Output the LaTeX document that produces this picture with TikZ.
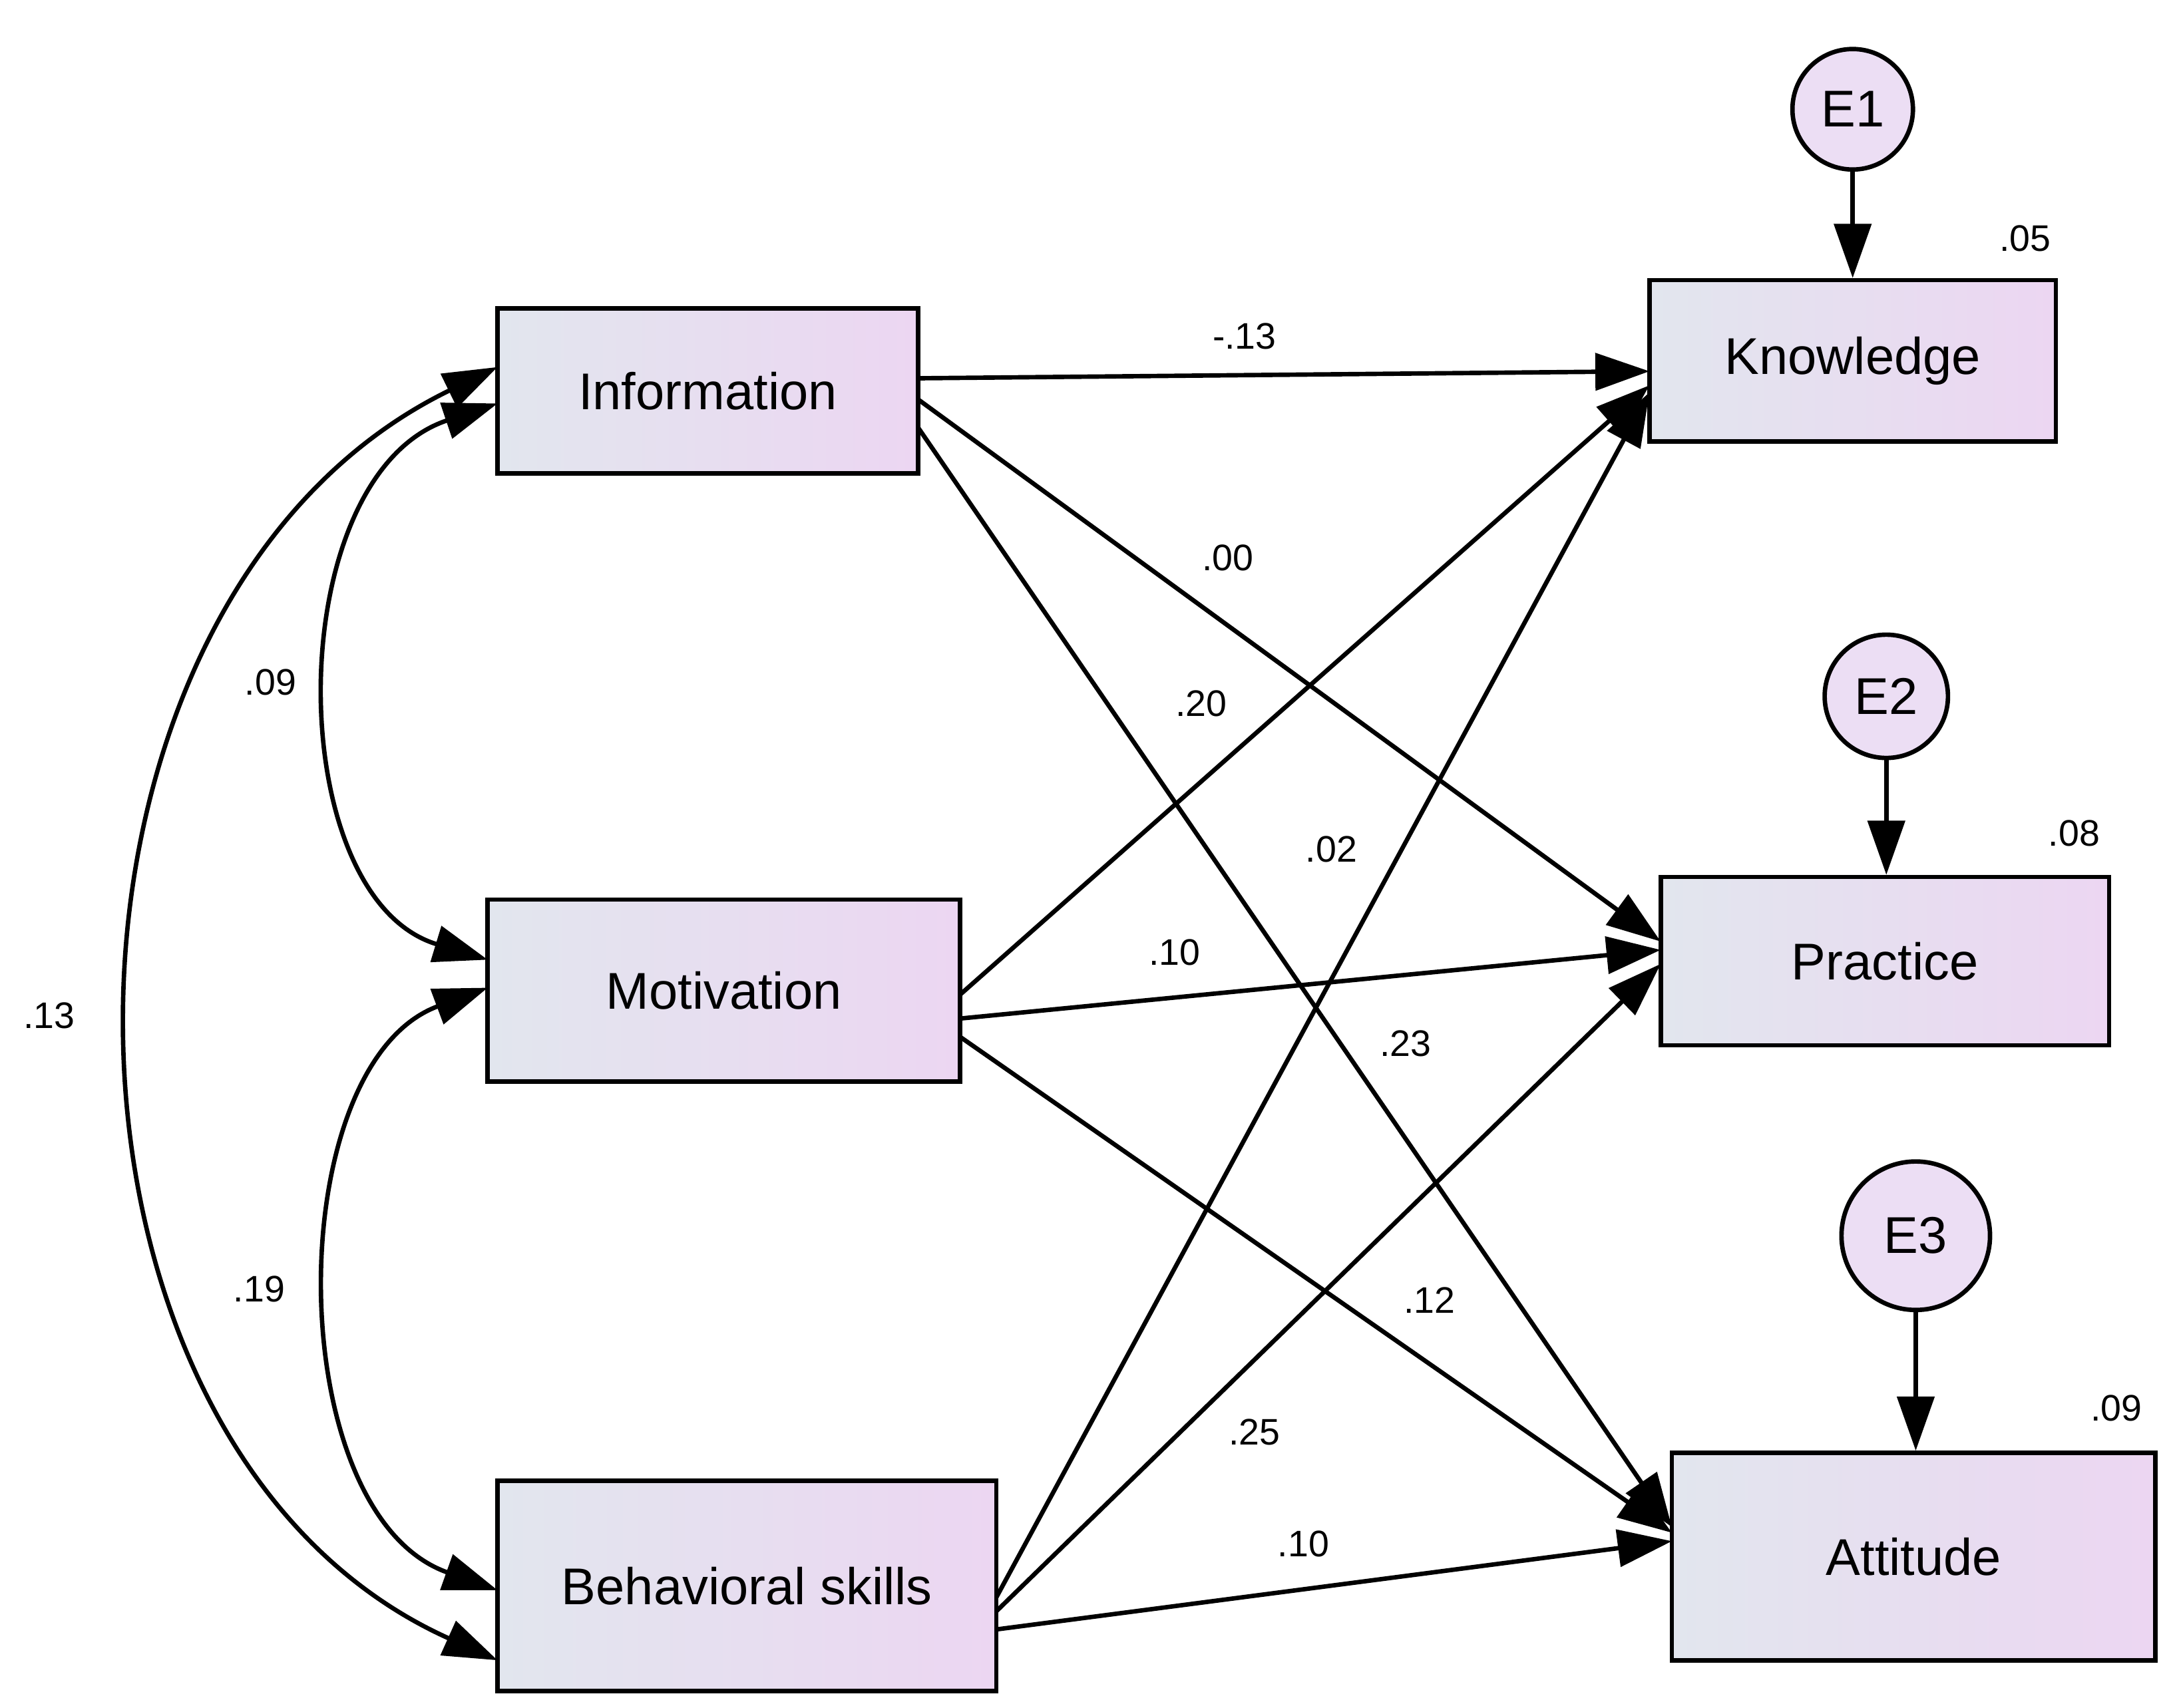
\documentclass[tikz,border=0pt]{standalone}
\usepackage{fontspec}
\setmainfont{Liberation Sans}
\usetikzlibrary{arrows.meta,shadings}
\definecolor{lc}{RGB}{226,230,238}
\definecolor{rc}{RGB}{236,214,242}
\definecolor{cc}{RGB}{236,222,244}
\begin{document}
\begin{tikzpicture}[x=0.02cm,y=-0.02cm,
 box/.style={draw,line width=1.8pt,left color=lc,right color=rc,font=\fontsize{21}{24}\selectfont},
 err/.style={draw,circle,line width=1.8pt,fill=cc,inner sep=0pt,font=\fontsize{21}{24}\selectfont},
 ar/.style={line width=1.8pt,-{Triangle[length=22pt,width=15pt]}},
 dar/.style={line width=1.8pt,{Triangle[length=22pt,width=15pt]}-{Triangle[length=22pt,width=15pt]}},
 lab/.style={font=\fontsize{15}{18}\selectfont}]
\useasboundingbox (0,0) rectangle (1552,1219);
\node[box,minimum width=300*0.02cm,minimum height=118*0.02cm] (inf) at (505,279) {Information};
\node[box,minimum width=337*0.02cm,minimum height=130*0.02cm] (mot) at (516.5,707) {Motivation};
\node[box,minimum width=356*0.02cm,minimum height=150*0.02cm] (beh) at (533,1132) {Behavioral skills};
\node[box,minimum width=290*0.02cm,minimum height=115*0.02cm] (kno) at (1322,257.5) {Knowledge};
\node[box,minimum width=320*0.02cm,minimum height=120*0.02cm] (pra) at (1345,686) {Practice};
\node[box,minimum width=345*0.02cm,minimum height=148*0.02cm] (att) at (1365.5,1111) {Attitude};
\node[err,minimum size=86*0.02cm] (e1) at (1322,78) {E1};
\node[err,minimum size=88*0.02cm] (e2) at (1346,497) {E2};
\node[err,minimum size=106*0.02cm] (e3) at (1367,882) {E3};
\draw[ar] (e1) -- (kno.north -| e1);
\draw[ar] (e2) -- (pra.north -| e2);
\draw[ar] (e3) -- (att.north -| e3);
\node[lab] at (1445,170) {.05};
\node[lab] at (1480,595) {.08};
\node[lab] at (1510,1005) {.09};
\coordinate (i1) at (655,270); \coordinate (i2) at (655,285); \coordinate (i3) at (655,305);
\coordinate (m1) at (685,710); \coordinate (m2) at (685,727); \coordinate (m3) at (685,740);
\coordinate (b1) at (711,1140); \coordinate (b2) at (711,1150); \coordinate (b3) at (711,1163);
\coordinate (k1) at (1177,265); \coordinate (k2) at (1177,275); \coordinate (k3) at (1177,280);
\coordinate (p1) at (1185,672); \coordinate (p2) at (1185,678); \coordinate (p3) at (1185,688);
\coordinate (a1) at (1193,1090); \coordinate (a2) at (1193,1094); \coordinate (a3) at (1193,1100);
\draw[ar] (i1) -- (k1); \draw[ar] (i2) -- (p1); \draw[ar] (i3) -- (a1);
\draw[ar] (m1) -- (k2); \draw[ar] (m2) -- (p2); \draw[ar] (m3) -- (a2);
\draw[ar] (b1) -- (k3); \draw[ar] (b2) -- (p3); \draw[ar] (b3) -- (a3);
\node[lab] at (888,240) {-.13};
\node[lab] at (876,398) {.00};
\node[lab] at (1003,745) {.23};
\node[lab] at (857,502) {.20};
\node[lab] at (838,680) {.10};
\node[lab] at (1020,928) {.12};
\node[lab] at (950,606) {.02};
\node[lab] at (895,1022) {.25};
\node[lab] at (930,1102) {.10};
\coordinate (c1) at (355,288); \coordinate (c2) at (348,685);
\coordinate (c3) at (348,705); \coordinate (c4) at (355,1135);
\coordinate (c5) at (355,262); \coordinate (c6) at (355,1185);
\draw[dar] (c1) .. controls (200,340) and (200,640) .. (c2);
\draw[dar] (c3) .. controls (200,760) and (200,1080) .. (c4);
\draw[dar] (c5) .. controls (10,430) and (10,1030) .. (c6);
\node[lab] at (193,487) {.09};
\node[lab] at (185,920) {.19};
\node[lab] at (35,725) {.13};
\end{tikzpicture}
\end{document}
